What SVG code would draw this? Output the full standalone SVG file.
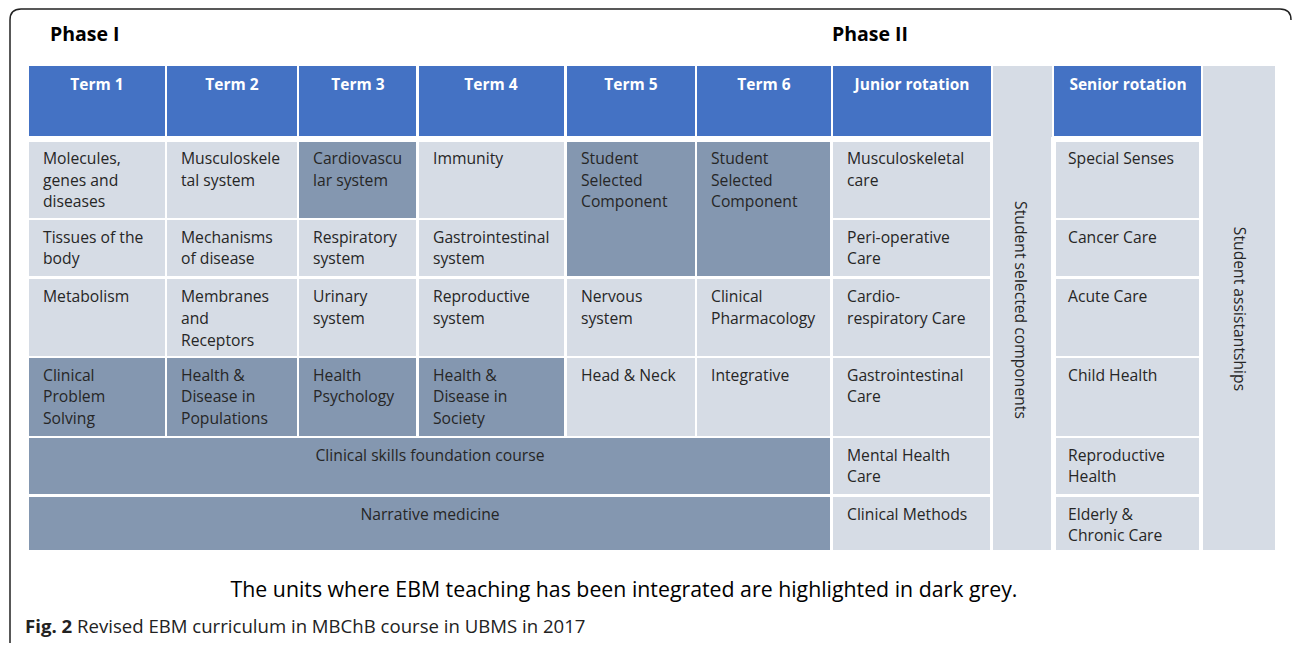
<svg xmlns="http://www.w3.org/2000/svg" width="1292" height="645" viewBox="0 0 1292 645">
<style>
.hd{fill:#4472c4}
.lt{fill:#d6dce5}
.dk{fill:#8497b0}
.t{font-family:"Open Sans","Liberation Sans",sans-serif;font-size:15.7px;fill:#262626}
.h{font-family:"Open Sans","Liberation Sans",sans-serif;font-size:15.5px;font-weight:bold;fill:#ffffff;text-anchor:middle}
.ph{font-family:"Open Sans","Liberation Sans",sans-serif;font-size:19.5px;font-weight:bold;fill:#000}
.c{text-anchor:middle}
</style>
<rect width="1292" height="645" fill="#ffffff"/>
<path d="M10,643 L10,20 Q10,9 21,9 L1280,9 Q1291,9 1291,20" fill="none" stroke="#222" stroke-width="1.5"/>
<text class="ph" x="50" y="41">Phase I</text>
<text class="ph" x="832" y="41">Phase II</text>
<g id="columns">
<rect class="lt" x="993" y="66" width="59" height="484"/>
<rect class="lt" x="1203" y="66" width="72" height="484"/>
<text class="t c" transform="translate(1015,310) rotate(90)" x="0" y="0">Student selected components</text>
<text class="t c" transform="translate(1234,309) rotate(90)" x="0" y="0">Student assistantships</text>
</g>
<g id="headers">
<rect class="hd" x="29" y="66" width="136" height="70"/>
<rect class="hd" x="167" y="66" width="130" height="70"/>
<rect class="hd" x="299" y="66" width="117" height="70"/>
<rect class="hd" x="419" y="66" width="145" height="70"/>
<rect class="hd" x="567" y="66" width="128" height="70"/>
<rect class="hd" x="697" y="66" width="134" height="70"/>
<rect class="hd" x="833" y="66" width="158" height="70"/>
<rect class="hd" x="1054" y="66" width="147" height="70"/>
<text class="h" x="97" y="90">Term 1</text>
<text class="h" x="232" y="90">Term 2</text>
<text class="h" x="358" y="90">Term 3</text>
<text class="h" x="491" y="90">Term 4</text>
<text class="h" x="631" y="90">Term 5</text>
<text class="h" x="764" y="90">Term 6</text>
<text class="h" x="912" y="90">Junior rotation</text>
<text class="h" x="1128" y="90">Senior rotation</text>
</g>
<g id="term1">
<rect class="lt" x="29" y="142" width="136" height="76"/>
<rect class="lt" x="29" y="220" width="136" height="56"/>
<rect class="lt" x="29" y="279" width="136" height="77"/>
<rect class="dk" x="29" y="358" width="136" height="78"/>
<text class="t" x="43" y="164">Molecules,<tspan x="43" y="186">genes and</tspan><tspan x="43" y="207">diseases</tspan></text>
<text class="t" x="43" y="243">Tissues of the<tspan x="43" y="264">body</tspan></text>
<text class="t" x="43" y="302">Metabolism</text>
<text class="t" x="43" y="381">Clinical<tspan x="43" y="402">Problem</tspan><tspan x="43" y="424">Solving</tspan></text>
</g>
<g id="term2">
<rect class="lt" x="167" y="142" width="130" height="76"/>
<rect class="lt" x="167" y="220" width="130" height="56"/>
<rect class="lt" x="167" y="279" width="130" height="77"/>
<rect class="dk" x="167" y="358" width="130" height="78"/>
<text class="t" x="181" y="164">Musculoskele<tspan x="181" y="186">tal system</tspan></text>
<text class="t" x="181" y="243">Mechanisms<tspan x="181" y="264">of disease</tspan></text>
<text class="t" x="181" y="302">Membranes<tspan x="181" y="324">and</tspan><tspan x="181" y="346">Receptors</tspan></text>
<text class="t" x="181" y="381">Health &amp;<tspan x="181" y="402">Disease in</tspan><tspan x="181" y="424">Populations</tspan></text>
</g>
<g id="term3">
<rect class="dk" x="299" y="142" width="117" height="76"/>
<rect class="lt" x="299" y="220" width="117" height="56"/>
<rect class="lt" x="299" y="279" width="117" height="77"/>
<rect class="dk" x="299" y="358" width="117" height="78"/>
<text class="t" x="313" y="164">Cardiovascu<tspan x="313" y="186">lar system</tspan></text>
<text class="t" x="313" y="243">Respiratory<tspan x="313" y="264">system</tspan></text>
<text class="t" x="313" y="302">Urinary<tspan x="313" y="324">system</tspan></text>
<text class="t" x="313" y="381">Health<tspan x="313" y="402">Psychology</tspan></text>
</g>
<g id="term4">
<rect class="lt" x="419" y="142" width="145" height="76"/>
<rect class="lt" x="419" y="220" width="145" height="56"/>
<rect class="lt" x="419" y="279" width="145" height="77"/>
<rect class="dk" x="419" y="358" width="145" height="78"/>
<text class="t" x="433" y="164">Immunity</text>
<text class="t" x="433" y="243">Gastrointestinal<tspan x="433" y="264">system</tspan></text>
<text class="t" x="433" y="302">Reproductive<tspan x="433" y="324">system</tspan></text>
<text class="t" x="433" y="381">Health &amp;<tspan x="433" y="402">Disease in</tspan><tspan x="433" y="424">Society</tspan></text>
</g>
<g id="term5">
<rect class="dk" x="567" y="142" width="128" height="134"/>
<rect class="lt" x="567" y="279" width="128" height="77"/>
<rect class="lt" x="567" y="358" width="128" height="78"/>
<text class="t" x="581" y="164">Student<tspan x="581" y="186">Selected</tspan><tspan x="581" y="207">Component</tspan></text>
<text class="t" x="581" y="302">Nervous<tspan x="581" y="324">system</tspan></text>
<text class="t" x="581" y="381">Head &amp; Neck</text>
</g>
<g id="term6">
<rect class="dk" x="697" y="142" width="133" height="134"/>
<rect class="lt" x="697" y="279" width="133" height="77"/>
<rect class="lt" x="697" y="358" width="133" height="78"/>
<text class="t" x="711" y="164">Student<tspan x="711" y="186">Selected</tspan><tspan x="711" y="207">Component</tspan></text>
<text class="t" x="711" y="302">Clinical<tspan x="711" y="324">Pharmacology</tspan></text>
<text class="t" x="711" y="381">Integrative</text>
</g>
<g id="shared">
<rect class="dk" x="29" y="438" width="801" height="56"/>
<rect class="dk" x="29" y="497" width="801" height="53"/>
<text class="t c" x="430" y="461">Clinical skills foundation course</text>
<text class="t c" x="430" y="520">Narrative medicine</text>
</g>
<g id="junior">
<rect class="lt" x="833" y="142" width="157" height="76"/>
<rect class="lt" x="833" y="220" width="157" height="56"/>
<rect class="lt" x="833" y="279" width="157" height="77"/>
<rect class="lt" x="833" y="358" width="157" height="78"/>
<rect class="lt" x="833" y="438" width="157" height="56"/>
<rect class="lt" x="833" y="497" width="157" height="53"/>
<text class="t" x="847" y="164">Musculoskeletal<tspan x="847" y="186">care</tspan></text>
<text class="t" x="847" y="243">Peri-operative<tspan x="847" y="264">Care</tspan></text>
<text class="t" x="847" y="302">Cardio-<tspan x="847" y="324">respiratory Care</tspan></text>
<text class="t" x="847" y="381">Gastrointestinal<tspan x="847" y="402">Care</tspan></text>
<text class="t" x="847" y="461">Mental Health<tspan x="847" y="482">Care</tspan></text>
<text class="t" x="847" y="520">Clinical Methods</text>
</g>
<g id="senior">
<rect fill="#ffffff" x="1051" y="137" width="152" height="413"/>
<rect class="lt" x="1056" y="142" width="143" height="76"/>
<rect class="lt" x="1056" y="220" width="143" height="56"/>
<rect class="lt" x="1056" y="279" width="143" height="77"/>
<rect class="lt" x="1056" y="358" width="143" height="78"/>
<rect class="lt" x="1056" y="438" width="143" height="56"/>
<rect class="lt" x="1056" y="497" width="143" height="53"/>
<text class="t" x="1068" y="164">Special Senses</text>
<text class="t" x="1068" y="243">Cancer Care</text>
<text class="t" x="1068" y="302">Acute Care</text>
<text class="t" x="1068" y="381">Child Health</text>
<text class="t" x="1068" y="461">Reproductive<tspan x="1068" y="482">Health</tspan></text>
<text class="t" x="1068" y="520">Elderly &amp;<tspan x="1068" y="541">Chronic Care</tspan></text>
</g>
<g id="caption">
<text font-family="Open Sans, Liberation Sans, sans-serif" font-size="21.3" fill="#000" x="624" y="597" text-anchor="middle">The units where EBM teaching has been integrated are highlighted in dark grey.</text>
<text font-family="Open Sans, Liberation Sans, sans-serif" font-size="18.6" fill="#222" x="25" y="633"><tspan font-weight="bold">Fig. 2</tspan> Revised EBM curriculum in MBChB course in UBMS in 2017</text>
</g>
</svg>
